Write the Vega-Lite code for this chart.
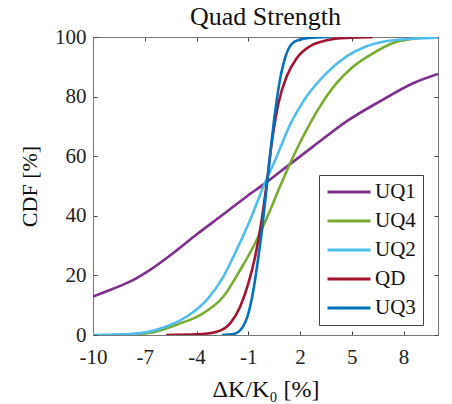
{
  "$schema": "https://vega.github.io/schema/vega-lite/v6.json",
  "width": 345,
  "height": 298,
  "autosize": "none",
  "padding": {"left": 93, "top": 37, "right": 14, "bottom": 69},
  "background": "white",
  "title": {"text": "Quad Strength", "fontSize": 26, "font": "Liberation Serif", "fontWeight": "normal", "color": "#111", "offset": -4},
  "config": {
    "view": {"stroke": null},
    "axis": {"labelFont": "Liberation Serif", "titleFont": "Liberation Serif", "labelFontSize": 21, "titleFontSize": 23, "titleFontWeight": "normal", "labelColor": "#222", "titleColor": "#111", "grid": false, "domainColor": "#777", "tickColor": "#444", "tickSize": -4, "labelPadding": 8, "labelFlush": false}
  },
  "data": {"values": [
    {"s":"UQ1","x":-10,"y":12.9},{"s":"UQ1","x":-8.8,"y":15.6},{"s":"UQ1","x":-7.86,"y":17.9},{"s":"UQ1","x":-6.87,"y":21.2},{"s":"UQ1","x":-5.15,"y":28.4},{"s":"UQ1","x":-3.98,"y":33.8},{"s":"UQ1","x":-2.44,"y":40.5},{"s":"UQ1","x":-1.09,"y":46.5},{"s":"UQ1","x":0.07,"y":51.3},{"s":"UQ1","x":1.23,"y":56.5},{"s":"UQ1","x":2.77,"y":63.3},{"s":"UQ1","x":4.7,"y":71.7},{"s":"UQ1","x":6.63,"y":78.4},{"s":"UQ1","x":8.56,"y":84.5},{"s":"UQ1","x":10,"y":87.6},
    {"s":"UQ4","x":-8.92,"y":0},{"s":"UQ4","x":-6.87,"y":0.6},{"s":"UQ4","x":-4.94,"y":3.9},{"s":"UQ4","x":-3.79,"y":6.7},{"s":"UQ4","x":-2.44,"y":12.9},{"s":"UQ4","x":-1.47,"y":21.8},{"s":"UQ4","x":-0.7,"y":29.7},{"s":"UQ4","x":0.07,"y":39.2},{"s":"UQ4","x":0.84,"y":49.8},{"s":"UQ4","x":1.61,"y":59.9},{"s":"UQ4","x":2.39,"y":68.9},{"s":"UQ4","x":3.16,"y":76.7},{"s":"UQ4","x":4.12,"y":84.5},{"s":"UQ4","x":5.09,"y":90.1},{"s":"UQ4","x":6.25,"y":94.6},{"s":"UQ4","x":7.4,"y":98.0},{"s":"UQ4","x":8.56,"y":99.4},{"s":"UQ4","x":10,"y":100},
    {"s":"UQ2","x":-10,"y":0},{"s":"UQ2","x":-7.84,"y":0.3},{"s":"UQ2","x":-5.91,"y":2.5},{"s":"UQ2","x":-4.56,"y":6.2},{"s":"UQ2","x":-3.4,"y":11.8},{"s":"UQ2","x":-2.44,"y":19.6},{"s":"UQ2","x":-1.67,"y":28.6},{"s":"UQ2","x":-0.89,"y":38.6},{"s":"UQ2","x":-0.12,"y":49.8},{"s":"UQ2","x":0.65,"y":59.9},{"s":"UQ2","x":1.42,"y":70.5},{"s":"UQ2","x":2.39,"y":80.1},{"s":"UQ2","x":3.54,"y":87.9},{"s":"UQ2","x":4.7,"y":93.5},{"s":"UQ2","x":5.86,"y":96.9},{"s":"UQ2","x":7.4,"y":98.9},{"s":"UQ2","x":10,"y":99.8},
    {"s":"QD","x":-5.76,"y":0},{"s":"QD","x":-3.98,"y":0.2},{"s":"QD","x":-2.82,"y":1.1},{"s":"QD","x":-2.05,"y":3.9},{"s":"QD","x":-1.47,"y":9.5},{"s":"QD","x":-0.99,"y":17.4},{"s":"QD","x":-0.6,"y":26.3},{"s":"QD","x":-0.22,"y":38.6},{"s":"QD","x":0.07,"y":50.9},{"s":"QD","x":0.36,"y":64.4},{"s":"QD","x":0.75,"y":77.8},{"s":"QD","x":1.23,"y":86.8},{"s":"QD","x":1.81,"y":92.9},{"s":"QD","x":2.58,"y":96.9},{"s":"QD","x":3.54,"y":98.9},{"s":"QD","x":4.7,"y":99.7},{"s":"QD","x":6.21,"y":99.9},
    {"s":"UQ3","x":-2.53,"y":0},{"s":"UQ3","x":-1.86,"y":0.3},{"s":"UQ3","x":-1.38,"y":2.2},{"s":"UQ3","x":-0.99,"y":7.3},{"s":"UQ3","x":-0.7,"y":15.1},{"s":"UQ3","x":-0.41,"y":26.3},{"s":"UQ3","x":-0.16,"y":37.5},{"s":"UQ3","x":0.07,"y":49.8},{"s":"UQ3","x":0.3,"y":62.2},{"s":"UQ3","x":0.55,"y":74.5},{"s":"UQ3","x":0.84,"y":85.7},{"s":"UQ3","x":1.23,"y":94.6},{"s":"UQ3","x":1.71,"y":98.5},{"s":"UQ3","x":2.39,"y":99.6},{"s":"UQ3","x":3.7,"y":100}
  ]},
  "resolve": {"axis": {"x": "independent", "y": "independent"}},
  "layer": [
    {
      "mark": {"type": "line", "strokeWidth": 2.6, "interpolate": "monotone", "clip": true},
      "encoding": {
        "x": {"field": "x", "type": "quantitative", "scale": {"domain": [-10, 10], "nice": false, "zero": false},
          "axis": {"values": [-10, -7, -4, -1, 2, 5, 8], "labelExpr": "replace(datum.label, '\u2212', '-')", "labelPadding": 15, "title": "ΔK/K₀  [%]", "titleFontSize": 24, "titlePadding": 10}},
        "y": {"field": "y", "type": "quantitative", "scale": {"domain": [0, 100], "nice": false},
          "axis": {"values": [0, 20, 40, 60, 80, 100], "labelPadding": 11, "title": "CDF [%]", "titleFontSize": 22, "titlePadding": 13}},
        "color": {"field": "s", "type": "nominal",
          "scale": {"domain": ["UQ1", "UQ4", "UQ2", "QD", "UQ3"], "range": ["#7E2F8E", "#77AC30", "#4DBEEE", "#A2142F", "#0072BD"]},
          "legend": {"title": null, "orient": "none", "legendX": 226, "legendY": 138, "symbolType": "stroke", "symbolSize": 1849, "symbolStrokeWidth": 3, "clipHeight": 20, "labelFont": "Liberation Serif", "labelFontSize": 21, "labelColor": "#111", "strokeColor": "#444", "fillColor": "white", "padding": 7, "labelOffset": 3, "rowPadding": 8}},
        "order": {"field": "s", "type": "nominal"}
      }
    },
    {
      "mark": {"type": "line", "opacity": 0},
      "encoding": {
        "x": {"field": "x", "type": "quantitative", "scale": {"domain": [-10, 10], "nice": false, "zero": false},
          "axis": {"orient": "top", "values": [-10, -7, -4, -1, 2, 5, 8], "labels": false, "title": null}},
        "y": {"field": "y", "type": "quantitative", "scale": {"domain": [0, 100], "nice": false},
          "axis": {"orient": "right", "values": [0, 20, 40, 60, 80, 100], "labels": false, "title": null}},
        "detail": {"field": "s"}
      }
    }
  ]
}
